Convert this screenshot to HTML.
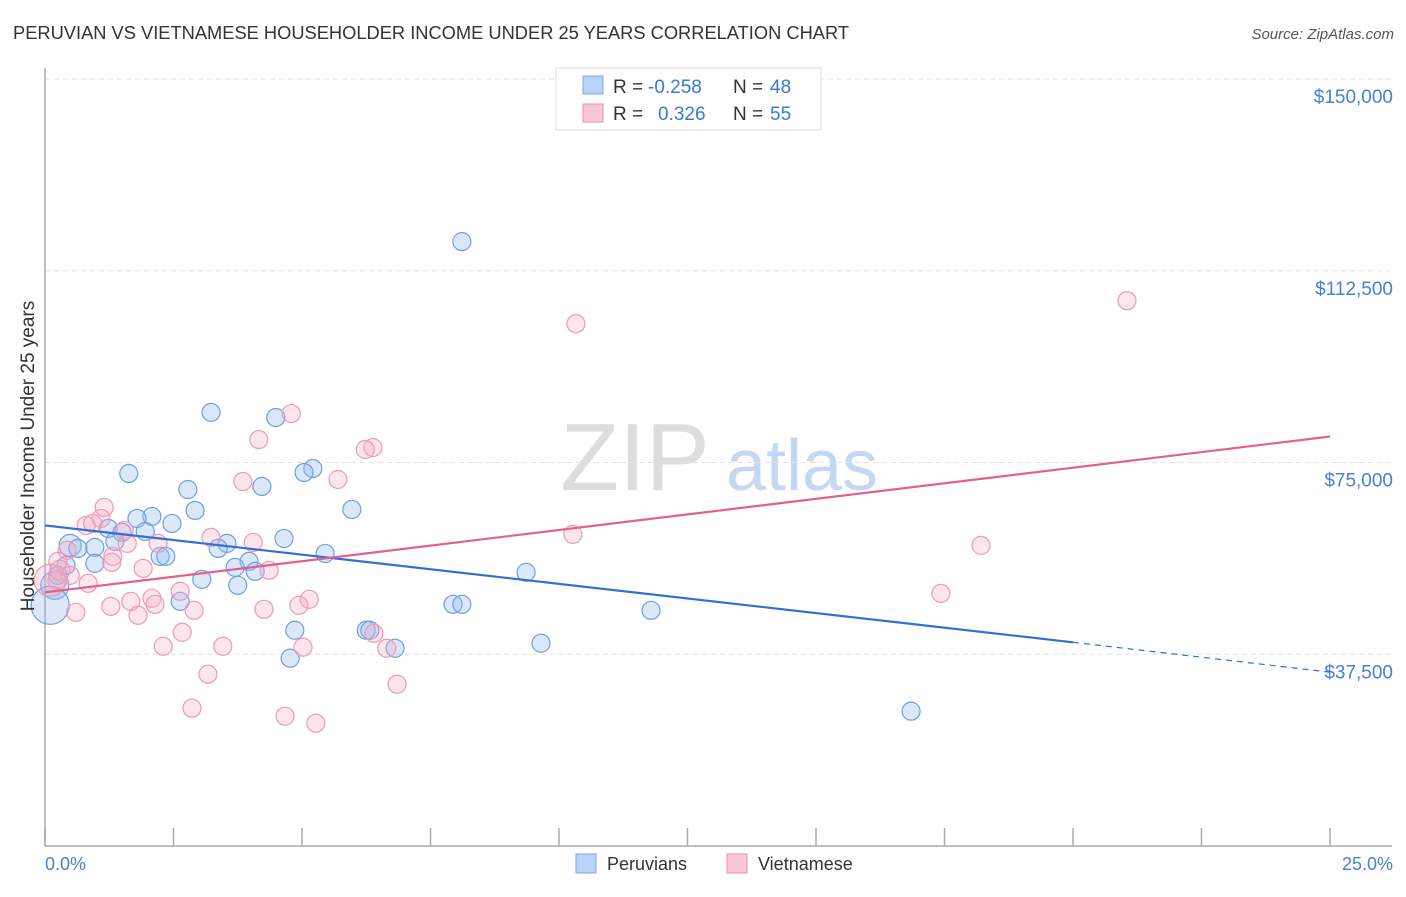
<!DOCTYPE html>
<html><head><meta charset="utf-8"><style>
body{margin:0;background:#fff;font-family:"Liberation Sans",sans-serif;}
svg text{font-family:"Liberation Sans",sans-serif;}
</style></head><body>
<svg id="chart" width="1406" height="892" xmlns="http://www.w3.org/2000/svg">
<text x="13" y="39" font-size="18.3" fill="#333">PERUVIAN VS VIETNAMESE HOUSEHOLDER INCOME UNDER 25 YEARS CORRELATION CHART</text>
<text x="1394" y="39" font-size="15" fill="#555" text-anchor="end" font-style="italic">Source: ZipAtlas.com</text>
<g>
<text x="635" y="490" font-size="96" fill="#ddd" text-anchor="middle" font-family="Liberation Serif,serif">ZIP</text>
<text x="802" y="490" font-size="72" fill="#c6d8ef" text-anchor="middle">atlas</text>
</g>
<g id="grid"></g>
<g id="axes"></g>
<g id="marks"></g>
<text transform="translate(34,456) rotate(-90)" font-size="19" fill="#333" text-anchor="middle">Householder Income Under 25 years</text>
<text x="45" y="870" font-size="18" fill="#4a7fd4">0.0%</text>
<text x="1393" y="870" font-size="18" fill="#4a7fd4" text-anchor="end">25.0%</text>
<g>
<rect x="556" y="68" width="265" height="62" fill="#fff" stroke="#ddd"/>
<rect x="583" y="76" width="20" height="18" fill="#b8d3f5" stroke="#7aa8e0"/>
<rect x="583" y="104" width="20" height="18" fill="#f8c6d6" stroke="#e890b0"/>
<text x="613" y="93" font-size="19" fill="#333">R =</text>
<text x="648" y="93" font-size="19" fill="#3a78d8">-0.258</text>
<text x="733" y="93" font-size="19" fill="#333">N =</text>
<text x="770" y="93" font-size="19" fill="#3a78d8">48</text>
<text x="613" y="120" font-size="19" fill="#333">R =</text>
<text x="658" y="120" font-size="19" fill="#3a78d8">0.326</text>
<text x="733" y="120" font-size="19" fill="#333">N =</text>
<text x="770" y="120" font-size="19" fill="#3a78d8">55</text>
</g>
<g>
<rect x="576" y="854" width="20" height="19" fill="#b8d3f5" stroke="#7aa8e0"/>
<text x="607" y="870" font-size="18" fill="#333">Peruvians</text>
<rect x="727" y="854" width="20" height="19" fill="#f8c6d6" stroke="#e890b0"/>
<text x="758" y="870" font-size="18" fill="#333">Vietnamese</text>
</g>
</svg>
<script>
const yTicks=[37500,75000,112500,150000];
const yTickLabels=["$37,500","$75,000","$112,500","$150,000"];
const xTicks=[0,2.5,5,7.5,10,12.5,15,17.5,20,22.5,25];
const blueX=[8.11,3.23,4.49,1.63,5.21,5.04,2.78,4.22,2.92,5.97,2.08,1.79,2.47,1.23,1.50,1.95,4.65,0.49,0.64,0.97,1.36,3.54,3.37,2.24,2.35,5.45,3.97,0.41,0.97,3.70,4.09,9.36,0.25,3.05,3.75,0.19,2.63,7.94,8.11,11.79,4.86,6.25,6.32,9.65,6.81,4.77,16.85,0.10];
const blueY=[118200,84800,83800,72850,73830,73050,69720,70310,65620,65820,64450,64060,63080,62110,61330,61520,60150,58790,58200,58400,59570,59180,58200,56640,56640,57220,55660,54880,55270,54490,53710,53510,52930,52150,50980,50980,47850,47270,47270,46090,42190,42190,42190,39650,38670,36720,26370,47070];
const blueR=[9,9,9,9,9,9,9,9,9,9,9,9,9,9,9,9,9,11,9,9,9,9,9,9,9,9,9,9,9,9,9,9,9,9,9,14,9,9,9,9,9,9,9,9,9,9,9,19];
const pinkX=[21.05,10.33,4.79,4.16,6.38,6.23,3.85,5.70,1.15,1.09,0.80,0.93,1.54,3.23,10.27,4.05,1.60,2.20,18.21,0.43,1.32,0.25,1.30,1.91,4.36,0.49,0.23,0.84,2.63,17.43,2.08,1.67,1.28,2.14,5.14,4.94,4.26,2.90,0.60,1.81,2.67,6.40,2.30,3.46,5.02,6.65,3.17,6.85,2.86,4.67,5.27,0.10,0.29];
const pinkY=[106640,102150,84570,79490,77930,77540,71290,71680,66210,64060,62690,63080,61720,60350,60940,59370,59180,59180,58790,57810,56640,55660,55470,54300,53910,52930,51950,51370,49800,49410,48440,47850,46870,47270,48240,47070,46290,46090,45700,45120,41800,41600,39060,39060,38870,38670,33590,31640,26950,25390,24020,51950,53910];
const blueTrendX=[0,20,25];
const blueTrendY=[62690,39840,34000];
const pinkTrendX=[0,25];
const pinkTrendY=[49610,80080];

const NS="http://www.w3.org/2000/svg";
const X=v=>45+v/25*1285;
const Y=v=>846-v/150000*767;
function mk(tag,attrs,parent){const e=document.createElementNS(NS,tag);for(const k in attrs)e.setAttribute(k,attrs[k]);document.getElementById(parent).appendChild(e);return e;}
yTicks.forEach((t,i)=>{
  const l=mk('line',{x1:45,x2:1392,y1:Y(t),y2:Y(t),stroke:'#e2e2e2','stroke-dasharray':'5,4'},'grid');
  
  
  const tx=mk('text',{x:1393,y:Y(t)+24,'font-size':19,fill:'#4a7fd4','text-anchor':'end'},'grid');
  
  
  tx.textContent=yTickLabels[i];
});
const ya=mk('line',{x1:45,x2:45,y1:68,y2:846,stroke:'#aaa','stroke-width':1.5},'axes');


const xa=mk('line',{x1:45,x2:1392,y1:846,y2:846,stroke:'#aaa','stroke-width':1.5},'axes');


xTicks.forEach(t=>{
  const l=mk('line',{x1:X(t),x2:X(t),y1:828,y2:846,stroke:'#aaa','stroke-width':1.5},'axes');
  
  
});
blueX.forEach((v,i)=>{
  const c=mk('circle',{cx:X(v),cy:Y(blueY[i]),r:blueR[i],fill:'rgba(150,190,240,0.35)',stroke:'#6f9fe0','stroke-width':1.2},'marks');
  
  
});
pinkX.forEach((v,i)=>{
  const r=(i>=51)?(i==51?16:10):9;
  const c=mk('circle',{cx:X(v),cy:Y(pinkY[i]),r:r,fill:'rgba(244,170,196,0.3)',stroke:'#ec9ab6','stroke-width':1.2},'marks');
  
  
});
const bl=mk('line',{x1:X(blueTrendX[0]),y1:Y(blueTrendY[0]),x2:X(blueTrendX[1]),y2:Y(blueTrendY[1]),stroke:'#2f6fd6','stroke-width':2.2},'marks');


const bd=mk('line',{x1:X(blueTrendX[1]),y1:Y(blueTrendY[1]),x2:X(blueTrendX[2]),y2:Y(blueTrendY[2]),stroke:'#2f6fd6','stroke-width':1.2,'stroke-dasharray':'6,5'},'marks');


const pl=mk('line',{x1:X(pinkTrendX[0]),y1:Y(pinkTrendY[0]),x2:X(pinkTrendX[1]),y2:Y(pinkTrendY[1]),stroke:'#e06090','stroke-width':2.2},'marks');


</script>
</body></html>
